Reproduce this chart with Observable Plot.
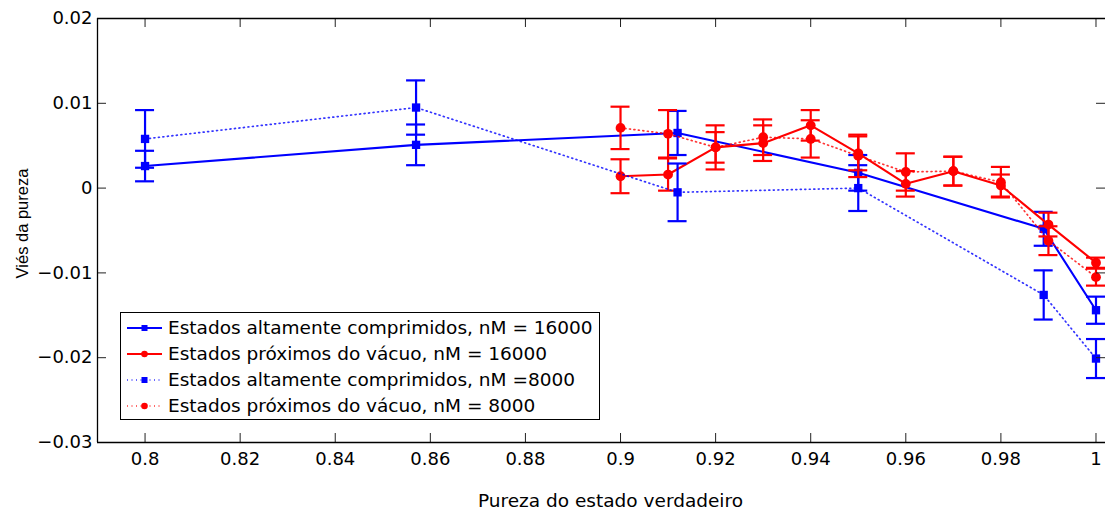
<!DOCTYPE html>
<html><head><meta charset="utf-8">
<script src="https://cdn.jsdelivr.net/npm/d3@7"></script>
<script src="https://cdn.jsdelivr.net/npm/@observablehq/plot@0.6"></script>
<style>
body{margin:0;background:#fff;}
#wrap{position:relative;width:1105px;height:512px;overflow:hidden;}
#legend{position:absolute;left:120px;top:312px;width:480px;height:108px;border:1px solid #000;background:#fff;box-sizing:border-box;font-family:"DejaVu Sans";font-size:18.5px;color:#000;}
.row{position:absolute;left:0;height:26px;display:flex;align-items:center;white-space:nowrap;}
.row svg{margin-left:6px;margin-right:6px;}
</style></head><body><div id="wrap"></div>
<script>
// ---- data ----
const xTicks = [0.8, 0.82, 0.84, 0.86, 0.88, 0.9, 0.92, 0.94, 0.96, 0.98, 1];
const yTicks = [-0.03, -0.02, -0.01, 0, 0.01, 0.02];

const xBlue = [0.8, 0.857, 0.912, 0.95, 0.989, 1.0];
const yBlue16000 = [0.0026, 0.0051, 0.0065, 0.0018, -0.0048, -0.0144];
const eBlue16000 = [0.0018, 0.0024, 0.0026, 0.0021, 0.0020, 0.0016];
const yBlue8000 = [0.0058, 0.0095, -0.0005, 0.0000, -0.0126, -0.0201];
const eBlue8000 = [0.0034, 0.0032, 0.0034, 0.0027, 0.0029, 0.0023];

const xRed = [0.9, 0.91, 0.92, 0.93, 0.94, 0.95, 0.96, 0.97, 0.98, 0.99, 1.0];
const yRed16000 = [0.0014, 0.0016, 0.0048, 0.0053, 0.0074, 0.0041, 0.0005, 0.0020, 0.0003, -0.0043, -0.0088];
const eRed16000 = [0.0020, 0.0019, 0.0018, 0.0021, 0.0018, 0.0020, 0.0015, 0.0017, 0.0013, 0.0014, 0.0006];
const yRed8000 = [0.0071, 0.0064, 0.0048, 0.0060, 0.0058, 0.0038, 0.0019, 0.0020, 0.0007, -0.0062, -0.0105];
const eRed8000 = [0.0025, 0.0028, 0.0026, 0.0021, 0.0022, 0.0025, 0.0022, 0.0017, 0.0018, 0.0017, 0.0010];

const seriesNames = [
  "Estados altamente comprimidos, nM = 16000",
  "Estados próximos do vácuo, nM = 16000",
  "Estados altamente comprimidos, nM =8000",
  "Estados próximos do vácuo, nM = 8000"
];
const xLabel = "Pureza do estado verdadeiro";
const yLabel = "Viés da pureza";

// ---- layout ----
const W = 1105, H = 512, mL = 97, mR = 0, mT = 18, mB = 70;
const xDomain = [0.79, 1.002], yDomain = [-0.03, 0.02];
const pxX = (W - mL - mR) / (xDomain[1] - xDomain[0]);
const pxY = (H - mT - mB) / (yDomain[1] - yDomain[0]);
const capHalf = 9.5 / pxX;
const tickX = 9 / pxX, tickY = 9 / pxY;
const BLUE = "#0000ff", RED = "#ff0000";

const rows = (xs, ys, es) => xs.map((x, i) => ({x, y: ys[i], lo: ys[i] - es[i], hi: ys[i] + es[i]}));

const series = [
  {data: rows(xBlue, yBlue16000, eBlue16000), color: BLUE, dotted: false, symbol: "square"},
  {data: rows(xRed, yRed16000, eRed16000), color: RED, dotted: false, symbol: "circle"},
  {data: rows(xBlue, yBlue8000, eBlue8000), color: BLUE, dotted: true, symbol: "square"},
  {data: rows(xRed, yRed8000, eRed8000), color: RED, dotted: true, symbol: "circle"}
];

const fmtY = d => d === 0 ? "0" : (d < 0 ? "\u2212" : "") + String(Math.abs(d));
const fmtX = d => String(d);

const marks = [];
for (const s of series) {
  marks.push(Plot.line(s.data, {x: "x", y: "y", stroke: s.color,
    strokeWidth: s.dotted ? 1.7 : 2.1,
    strokeDasharray: s.dotted ? "1,3.5" : null,
    strokeOpacity: s.dotted ? 0.8 : 1}));
  marks.push(Plot.ruleX(s.data, {x: "x", y1: "lo", y2: "hi", stroke: s.color, strokeWidth: 2.2}));
  marks.push(Plot.ruleY(s.data, {y: "hi", x1: d => d.x - capHalf, x2: d => d.x + capHalf, stroke: s.color, strokeWidth: 2.2}));
  marks.push(Plot.ruleY(s.data, {y: "lo", x1: d => d.x - capHalf, x2: d => d.x + capHalf, stroke: s.color, strokeWidth: 2.2}));
  marks.push(Plot.dot(s.data, {x: "x", y: "y", symbol: s.symbol, r: s.symbol === "square" ? 4.7 : 4.9, fill: s.color, stroke: "none"}));
}

// inward ticks on all four sides
marks.push(Plot.ruleY(yTicks, {y: d => d, x1: xDomain[0], x2: xDomain[0] + tickX, stroke: "#222", strokeWidth: 1}));
marks.push(Plot.ruleY(yTicks, {y: d => d, x1: xDomain[1] - tickX, x2: xDomain[1], stroke: "#222", strokeWidth: 1}));
marks.push(Plot.ruleX(xTicks, {x: d => d, y1: yDomain[0], y2: yDomain[0] + tickY, stroke: "#222", strokeWidth: 1}));
marks.push(Plot.ruleX(xTicks, {x: d => d, y1: yDomain[1] - tickY, y2: yDomain[1], stroke: "#222", strokeWidth: 1}));
// box
marks.push(Plot.ruleX([xDomain[0]], {stroke: "#000", strokeWidth: 1.3}));
marks.push(Plot.ruleY([yDomain[0], yDomain[1]], {stroke: "#000", strokeWidth: 1.3}));
// titles
marks.push(Plot.text([xLabel], {frameAnchor: "bottom", dx: 9, dy: 51, lineAnchor: "top", textAnchor: "middle", fontSize: 18.5, fill: "#000"}));
marks.push(Plot.text([yLabel], {frameAnchor: "left", rotate: -90, dx: -75, dy: -7, lineAnchor: "middle", textAnchor: "middle", fontSize: 16.5, fontFamily: "Liberation Sans", fill: "#000"}));

const chart = Plot.plot({
  width: W, height: H,
  marginLeft: mL, marginRight: mR, marginTop: mT, marginBottom: mB,
  style: {fontFamily: "DejaVu Sans", fontSize: "18px", color: "#000", background: "#fff", overflow: "visible"},
  x: {domain: xDomain, ticks: xTicks, tickSize: 0, tickPadding: 10, tickFormat: fmtX, label: null},
  y: {domain: yDomain, ticks: yTicks, tickSize: 0, tickPadding: 5, tickFormat: fmtY, label: null},
  marks
});
const wrap = document.getElementById("wrap");
wrap.appendChild(chart);

// legend
const legend = document.createElement("div");
legend.id = "legend";
series.forEach((s, i) => {
  const row = document.createElement("div");
  row.className = "row";
  row.style.top = (1.7 + 26 * i) + "px";
  const marker = s.symbol === "square"
    ? `<rect x="14.5" y="10" width="6" height="6" fill="${s.color}"/>`
    : `<circle cx="17.5" cy="13" r="3.3" fill="${s.color}"/>`;
  row.innerHTML = `<svg width="35" height="26"><line x1="0" x2="35" y1="13" y2="13" stroke="${s.color}" stroke-width="${s.dotted ? 1.6 : 2}" ${s.dotted ? 'stroke-dasharray="1,3.5" stroke-opacity="0.8"' : ''}/>${marker}</svg><span>${seriesNames[i]}</span>`;
  legend.appendChild(row);
});
wrap.appendChild(legend);
</script>
</body></html>
